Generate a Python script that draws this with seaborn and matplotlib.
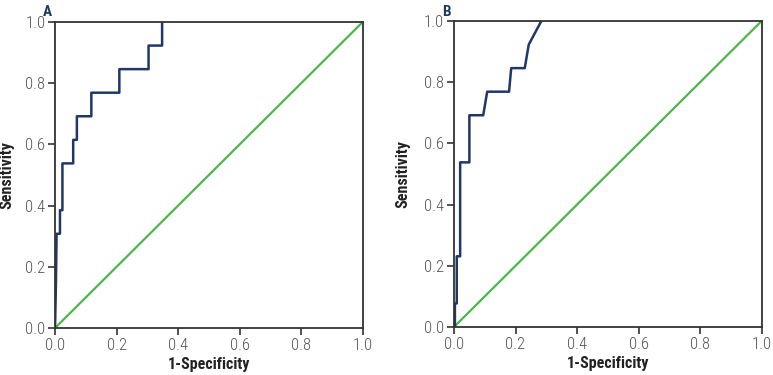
import numpy as np
import pandas as pd
import matplotlib
matplotlib.use("Agg")
import matplotlib.pyplot as plt
import seaborn as sns

# curva ROC panel A (1-especificidad, sensibilidad)
fpr_a = [0.0, 0.003, 0.005, 0.016, 0.016, 0.024, 0.024, 0.059, 0.059, 0.071, 0.071,
         0.118, 0.118, 0.209, 0.209, 0.304, 0.304, 0.348, 0.348]
tpr_a = [0.0, 0.15, 0.308, 0.308, 0.385, 0.385, 0.538, 0.538, 0.615, 0.615, 0.692,
         0.692, 0.769, 0.769, 0.846, 0.846, 0.923, 0.923, 1.0]

# curva ROC panel B
fpr_b = [0.0, 0.003, 0.003, 0.009, 0.009, 0.02, 0.02, 0.05, 0.05, 0.095, 0.108,
         0.179, 0.186, 0.230, 0.243, 0.284]
tpr_b = [0.0, 0.0, 0.077, 0.077, 0.231, 0.231, 0.538, 0.538, 0.692, 0.692, 0.769,
         0.769, 0.846, 0.846, 0.923, 1.0]

diag = [0.0, 1.0]
ticks = [0.0, 0.2, 0.4, 0.6, 0.8, 1.0]
paneles = ["A", "B"]

azul = "#1f3868"
verde = "#4bb74a"

sns.set_style("ticks")
plt.rcParams["font.family"] = ["Roboto Condensed", "DejaVu Sans"]

fig = plt.figure(figsize=(7.73, 3.75), dpi=100)
ax1 = fig.add_axes([0.0712, 0.1253, 0.398, 0.816])
ax2 = fig.add_axes([0.5873, 0.128, 0.398, 0.816])

datos = [(ax1, fpr_a, tpr_a, -0.133), (ax2, fpr_b, tpr_b, -0.143)]
for (ax, fx, fy, ylx), letra in zip(datos, paneles):
    sns.lineplot(x=diag, y=diag, ax=ax, color=verde, linewidth=1.6, sort=False)
    df = pd.DataFrame({"fpr": fx, "tpr": fy})
    sns.lineplot(data=df, x="fpr", y="tpr", ax=ax, color=azul, linewidth=1.8,
                 sort=False, estimator=None)
    ax.set_xlim(0, 1)
    ax.set_ylim(0, 1)
    ax.set_xticks(ticks)
    ax.set_yticks(ticks)
    ax.set_xticklabels([f"{t:.1f}" for t in ticks], fontweight="light")
    ax.set_yticklabels([f"{t:.1f}" for t in ticks], fontweight="light")
    ax.tick_params(labelsize=12, colors="#333333", length=5, width=1.2,
                   labelcolor="#555555", pad=2)
    for s in ax.spines.values():
        s.set_linewidth(1.3)
        s.set_color("#333333")
    ax.set_xlabel("1-Specificity", fontsize=11.5, fontweight="bold", color="#222222")
    ax.set_ylabel("Sensitivity", fontsize=11.5, fontweight="bold", color="#222222")
    ax.xaxis.set_label_coords(0.5, -0.095)
    ax.yaxis.set_label_coords(ylx, 0.5)
    pos = ax.get_position()
    fig.text(pos.x0 - 0.01, 0.968, letra, fontsize=11, fontweight="bold",
             color=azul, ha="center", va="center")

fig.savefig("out.png", dpi=100)
